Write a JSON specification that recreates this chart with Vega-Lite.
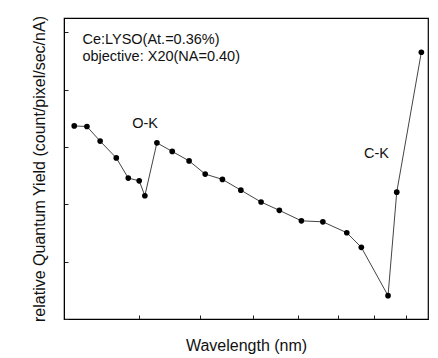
{
  "$schema": "https://vega.github.io/schema/vega-lite/v6.json",
  "autosize": "none",
  "width": 364,
  "height": 301,
  "padding": {"left": 64, "top": 18, "right": 10, "bottom": 39},
  "background": "white",
  "config": {
    "view": {"stroke": "black", "strokeWidth": 1.2},
    "font": "Liberation Sans"
  },
  "datasets": {
    "pts": [
      {"wl": 1.95, "qy": 2.847},
      {"wl": 2.014, "qy": 2.843},
      {"wl": 2.083, "qy": 2.741},
      {"wl": 2.171, "qy": 2.624},
      {"wl": 2.239, "qy": 2.483},
      {"wl": 2.303, "qy": 2.464},
      {"wl": 2.337, "qy": 2.36},
      {"wl": 2.411, "qy": 2.729},
      {"wl": 2.509, "qy": 2.669},
      {"wl": 2.622, "qy": 2.603},
      {"wl": 2.735, "qy": 2.511},
      {"wl": 2.862, "qy": 2.474},
      {"wl": 3.005, "qy": 2.399},
      {"wl": 3.171, "qy": 2.316},
      {"wl": 3.33, "qy": 2.258},
      {"wl": 3.533, "qy": 2.185},
      {"wl": 3.744, "qy": 2.178},
      {"wl": 3.996, "qy": 2.102},
      {"wl": 4.158, "qy": 2.0},
      {"wl": 4.475, "qy": 1.663},
      {"wl": 4.584, "qy": 2.385},
      {"wl": 4.908, "qy": 3.361}
    ],
    "notes": [
      {"label": "Ce:LYSO(At.=0.36%)", "wl": 1.991, "qy": 3.422},
      {"label": "objective: X20(NA=0.40)", "wl": 1.991, "qy": 3.297},
      {"label": "O-K", "wl": 2.262, "qy": 2.836},
      {"label": "C-K", "wl": 4.189, "qy": 2.62}
    ]
  },
  "layer": [
    {
      "data": {"name": "pts"},
      "mark": {"type": "line", "color": "#444", "strokeWidth": 1},
      "encoding": {
        "x": {"field": "wl", "type": "quantitative",
          "scale": {"type": "pow", "exponent": -0.1, "domain": [1.9, 5], "nice": false, "zero": false},
          "axis": {"orient": "bottom", "title": "Wavelength (nm)", "titleFont": "Liberation Sans", "titleFontWeight": "normal", "titleColor": "#111", "titleFontSize": 16, "titlePadding": 0,
            "labelFont": "Liberation Sans", "labelColor": "#111", "labelFontSize": 11, "labelPadding": 11, "labelOverlap": false,
            "grid": false, "domainColor": "black", "tickColor": "#222", "tickWidth": 1, "tickSize": -4,
            "values": [1.9,2,2.1,2.2,2.3,2.4,2.5,2.6,2.7,2.8,2.9,3,3.1,3.2,3.3,3.4,3.5,3.6,3.7,3.8,3.9,4,4.1,4.2,4.3,4.4,4.5,4.6,4.7,4.8,4.9,5],
            "labelExpr": "abs(datum.value - round(datum.value)) < 0.001 ? format(datum.value, 'd') : ''"}},
        "y": {"field": "qy", "type": "quantitative",
          "scale": {"domain": [1.5, 3.6], "nice": false, "zero": false},
          "axis": {"orient": "left", "title": "relative Quantum Yield (count/pixel/sec/nA)", "titleFont": "Liberation Sans", "titleFontWeight": "normal", "titleColor": "#111", "titleFontSize": 16, "titlePadding": 6,
            "labelFont": "Liberation Sans", "labelColor": "#111", "labelFontSize": 11, "labelPadding": 15, "labelOverlap": false,
            "grid": false, "domainColor": "black", "tickColor": "#222", "tickWidth": 1, "tickSize": -4,
            "values": [1.5,1.6,1.7,1.8,1.9,2,2.1,2.2,2.3,2.4,2.5,2.6,2.7,2.8,2.9,3,3.1,3.2,3.3,3.4,3.5,3.6],
            "labelExpr": "abs(datum.value*5 - round(datum.value*5)) < 0.001 ? format(datum.value, '.1f') : ''"}}
      }
    },
    {
      "data": {"name": "pts"},
      "mark": {"type": "point", "filled": true, "color": "black", "size": 32, "opacity": 1},
      "encoding": {
        "x": {"field": "wl", "type": "quantitative"},
        "y": {"field": "qy", "type": "quantitative"}
      }
    },
    {
      "data": {"name": "notes"},
      "mark": {"type": "text", "align": "left", "baseline": "alphabetic", "fontSize": 14.5, "font": "Liberation Sans", "color": "#111"},
      "encoding": {
        "x": {"field": "wl", "type": "quantitative"},
        "y": {"field": "qy", "type": "quantitative"},
        "text": {"field": "label"}
      }
    }
  ]
}
